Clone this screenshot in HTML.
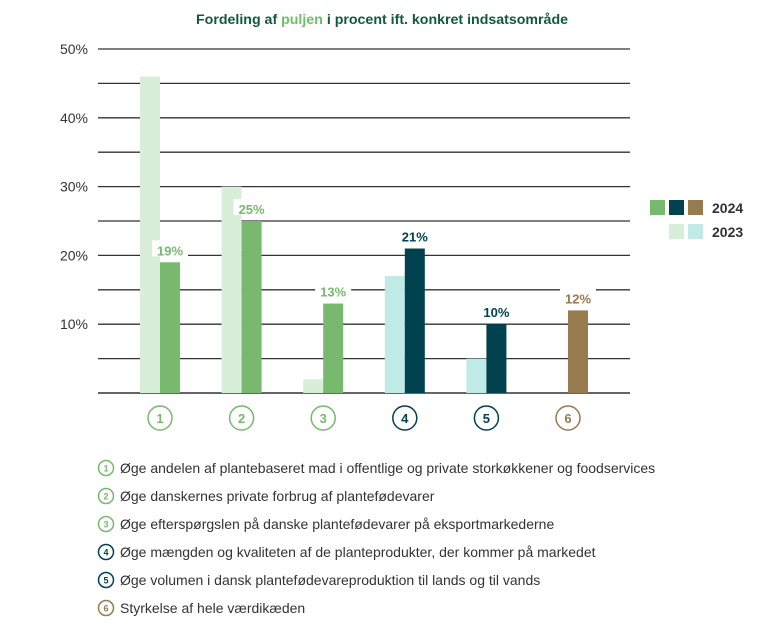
<!DOCTYPE html>
<html><head><meta charset="utf-8"><style>
body{margin:0;background:#fff;width:768px;height:625px;overflow:hidden;font-family:"Liberation Sans",sans-serif}
</style></head><body>
<svg id="c" width="768" height="625" xmlns="http://www.w3.org/2000/svg">
<text x="382" y="24" text-anchor="middle" font-size="14" font-weight="bold" fill="#0f5a3a" textLength="372" lengthAdjust="spacingAndGlyphs">Fordeling af <tspan fill="#6fbd6a">puljen</tspan> i procent ift. konkret indsatsområde</text>
<g id="grid"></g><g id="bars"></g><g id="labels"></g><g id="cats"></g>
<g>
<rect x="650" y="200" width="15" height="15" fill="#78b96f"/>
<rect x="669" y="200" width="15" height="15" fill="#004250"/>
<rect x="688" y="200" width="15" height="15" fill="#977a4d"/>
<text x="712" y="213" font-size="14" font-weight="bold" fill="#333">2024</text>
<rect x="669" y="224" width="15" height="15" fill="#d9eed8"/>
<rect x="688" y="224" width="15" height="15" fill="#bfeae6"/>
<text x="712" y="237" font-size="14" font-weight="bold" fill="#333">2023</text>
</g>
<g id="desc"></g>
</svg>
<script>
const categories=["1","2","3","4","5","6"];
const values2023=[46,30,2,17,5,0];
const values2024=[19,25,13,21,10,12];
const yTicks=[10,20,30,40,50];
const descriptions=["Øge andelen af plantebaseret mad i offentlige og private storkøkkener og foodservices","Øge danskernes private forbrug af plantefødevarer","Øge efterspørgslen på danske plantefødevarer på eksportmarkederne","Øge mængden og kvaliteten af de planteprodukter, der kommer på markedet","Øge volumen i dansk plantefødevareproduktion til lands og til vands","Styrkelse af hele værdikæden"];
const col2024=["#78b96f","#78b96f","#78b96f","#004250","#004250","#977a4d"];
const col2023=["#d9eed8","#d9eed8","#d9eed8","#bfeae6","#bfeae6","#bfeae6"];
const NS="http://www.w3.org/2000/svg";
const y0=393,ppu=6.88,x0=160,dx=81.6,bw=20;
const y=v=>y0-v*ppu, x=i=>x0+i*dx;
function mk(t,a,p){const e=document.createElementNS(NS,t);for(const k in a)e.setAttribute(k,a[k]);document.getElementById(p).appendChild(e);return e;}
for(let v=5;v<=50;v+=5){const l=mk('line',{x1:98,x2:630,y1:y(v),y2:y(v),stroke:'#333','stroke-width':1.3},'grid');

}
const ax=mk('line',{x1:98,x2:630,y1:y0,y2:y0,stroke:'#333','stroke-width':1.5},'grid');


yTicks.forEach(v=>{const t=mk('text',{x:88,y:y(v)+5,'text-anchor':'end','font-size':14,fill:'#333'},'grid');t.textContent=v+'%';

});
categories.forEach((c,i)=>{
 if(values2023[i]>0){const b=mk('rect',{x:x(i)-bw,y:y(values2023[i]),width:bw,height:values2023[i]*ppu,fill:col2023[i]},'bars');
 
 }
 const b2=mk('rect',{x:x(i),y:y(values2024[i]),width:bw,height:values2024[i]*ppu,fill:col2024[i]},'bars');
 
 
 const bg=mk('rect',{x:x(i)-8,y:y(values2024[i])-22,width:36,height:16,fill:'#fff'},'labels');
 
 
 const t=mk('text',{x:x(i)+bw/2,y:y(values2024[i])-7,'text-anchor':'middle','font-size':13,'font-weight':'bold',fill:col2024[i]},'labels');t.textContent=values2024[i]+'%';
 
 
 const ci=mk('circle',{cx:x(i),cy:418,r:12,fill:'#fff',stroke:col2024[i],'stroke-width':1.5},'cats');
 
 
 const ct=mk('text',{x:x(i),y:423,'text-anchor':'middle','font-size':13,'font-weight':'bold',fill:col2024[i]},'cats');ct.textContent=c;
 
 
 const yy=468+i*28;
 const dc=mk('circle',{cx:106,cy:yy,r:7.5,fill:'#fff',stroke:col2024[i],'stroke-width':1.5},'desc');
 
 
 const dn=mk('text',{x:106,y:yy+3.5,'text-anchor':'middle','font-size':9,'font-weight':'bold',fill:col2024[i]},'desc');dn.textContent=c;
 
 
 const dt=mk('text',{x:120,y:yy+5,'font-size':14,fill:'#333'},'desc');dt.textContent=descriptions[i];
 
 
});
</script>
</body></html>
